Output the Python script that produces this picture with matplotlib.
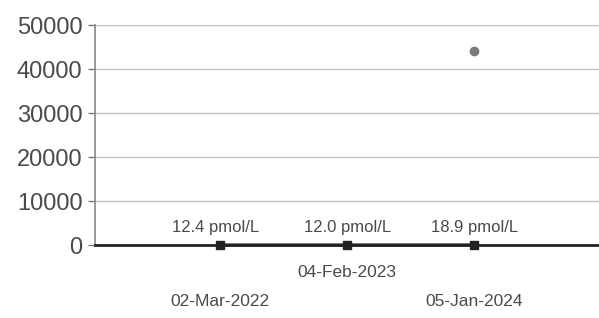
#!/usr/bin/env python3
import matplotlib
matplotlib.use("Agg")
import matplotlib.pyplot as plt

# values
dates = ["02-Mar-2022", "04-Feb-2023", "05-Jan-2024"]
values = [12.4, 12.0, 18.9]
value_labels = ["12.4 pmol/L", "12.0 pmol/L", "18.9 pmol/L"]
extra_point_index = 2
extra_point_value = 44000
y_ticks = [0, 10000, 20000, 30000, 40000, 50000]

plt.rcParams["font.family"] = ["Liberation Sans", "DejaVu Sans"]
text_col = "#4a4a4a"

fig = plt.figure(figsize=(5.99, 3.18), dpi=100)
ax = fig.add_axes([95 / 599, 1 - 245 / 318, 1 - 95 / 599, 220 / 318])

x = list(range(len(dates)))
ax.plot(x, values, color="#222222", lw=2.2, marker="s", ms=6, zorder=4, clip_on=False)
ax.plot([extra_point_index], [extra_point_value], "o", color="#7a7a7a", ms=6, zorder=4)

for xi, v, lab in zip(x, values, value_labels):
    ax.annotate(lab, (xi, v), xytext=(-3 if xi == 0 else 0, 7), textcoords="offset points",
                ha="center", va="bottom", fontsize=12, color=text_col)

# staggered date labels below the axis
for xi, d in zip(x, dates):
    off = -20 if xi % 2 == 1 else -41
    ax.annotate(d, (xi, 0), xytext=(0, off), textcoords="offset points",
                ha="center", va="center", fontsize=12.5, color=text_col,
                annotation_clip=False)

ax.set_xlim(-0.984, 2.98)
ax.set_ylim(0, 50000)
ax.set_yticks(y_ticks)
ax.set_yticklabels([str(t) for t in y_ticks])
ax.set_xticks([])
ax.tick_params(axis="y", labelsize=17, colors="#777777", labelcolor=text_col,
               length=5, width=1, pad=4)

ax.grid(True, axis="y", color="#c0c0c0", lw=1)
ax.set_axisbelow(True)
for s in ("top", "right"):
    ax.spines[s].set_visible(False)
ax.spines["left"].set_color("#888888")
ax.spines["left"].set_linewidth(1.2)
ax.spines["bottom"].set_color("#222222")
ax.spines["bottom"].set_linewidth(2)

fig.savefig("out.png", dpi=100)
